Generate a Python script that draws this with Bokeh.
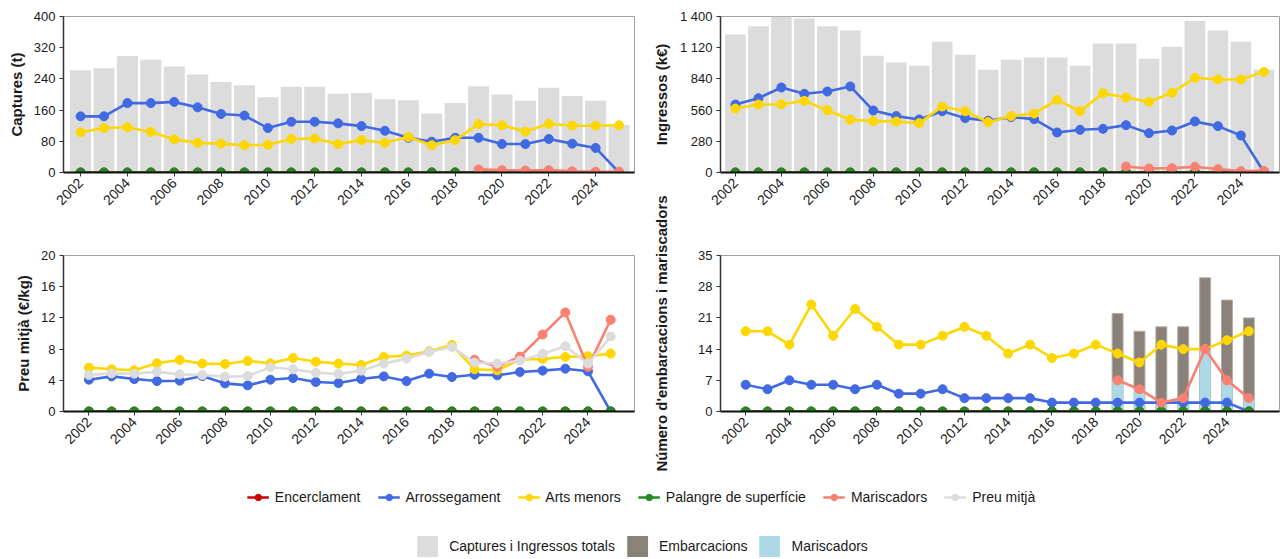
from math import pi
from bokeh.plotting import figure
from bokeh.layouts import row, column
from bokeh.models import FixedTicker, Range1d, Legend, LegendItem, Label
from bokeh.embed import file_html
from bokeh.resources import INLINE

# ---------------- data ----------------
years = [2002, 2003, 2004, 2005, 2006, 2007, 2008, 2009, 2010, 2011, 2012, 2013,
         2014, 2015, 2016, 2017, 2018, 2019, 2020, 2021, 2022, 2023, 2024, 2025]
years_marisc = [2019, 2020, 2021, 2022, 2023, 2024, 2025]
x_tick_years = [2002, 2004, 2006, 2008, 2010, 2012, 2014, 2016, 2018, 2020, 2022, 2024]

series_names = ["Encerclament", "Arrossegament", "Arts menors",
                "Palangre de superfície", "Mariscadors", "Preu mitjà"]
series_colors = ["#CC0000", "#4169E1", "#FFD700", "#228B22", "#FA8072", "#DCDCDC"]
bar_names = ["Captures i Ingressos totals", "Embarcacions", "Mariscadors"]
bar_colors = ["#DCDCDC", "#8A8178", "#ADD8E6"]

zeros_all = [0, 0, 0, 0, 0, 0, 0, 0, 0, 0, 0, 0, 0, 0, 0, 0, 0, 0, 0, 0, 0, 0, 0, 0]

# Captures (t)
captures_total = [262, 267, 299, 289, 272, 251, 232, 224, 193, 220, 220, 202,
                  204, 188, 185, 151, 178, 221, 200, 184, 217, 196, 184, 122]
captures_encerclament = zeros_all
captures_arrossegament = [144, 144, 178, 178, 181, 167, 150, 146, 114, 130, 130, 126,
                          119, 107, 89, 79, 89, 89, 73, 73, 86, 74, 63, 0]
captures_arts_menors = [103, 114, 116, 104, 85, 76, 74, 70, 71, 86, 87, 73,
                        83, 76, 91, 70, 83, 124, 121, 105, 125, 120, 120, 121]
captures_palangre = zeros_all
captures_mariscadors = [8, 6, 5, 6, 3, 2, 2]

# Ingressos (k€)
ingressos_total = [1238, 1313, 1415, 1382, 1313, 1274, 1047, 987, 957, 1173, 1056, 921,
                   1011, 1032, 1032, 957, 1158, 1158, 1020, 1128, 1361, 1274, 1173, 921]
ingressos_encerclament = zeros_all
ingressos_arrossegament = [610, 667, 763, 706, 727, 772, 556, 506, 476, 550, 488, 464,
                           497, 479, 359, 383, 392, 425, 353, 377, 458, 416, 332, 5]
ingressos_arts_menors = [574, 610, 613, 643, 559, 473, 461, 458, 443, 592, 550, 452,
                         506, 529, 652, 550, 712, 673, 634, 715, 850, 835, 835, 903]
ingressos_palangre = zeros_all
ingressos_mariscadors = [54, 36, 39, 51, 30, 12, 15]

# Preu mitjà (€/kg)
preu_encerclament = zeros_all
preu_arrossegament = [4.08, 4.50, 4.16, 3.90, 3.95, 4.55, 3.60, 3.35, 4.08, 4.29, 3.78, 3.65,
                      4.16, 4.50, 3.90, 4.85, 4.42, 4.72, 4.64, 5.06, 5.24, 5.49, 5.15, 0]
preu_arts_menors = [5.62, 5.41, 5.28, 6.18, 6.61, 6.14, 6.09, 6.48, 6.18, 6.87, 6.39, 6.14,
                    5.97, 7.00, 7.17, 7.73, 8.54, 5.41, 5.28, 6.65, 6.74, 7.00, 7.08, 7.42]
preu_palangre = zeros_all
preu_mariscadors = [6.65, 5.75, 7.04, 9.87, 12.70, 5.71, 11.76]
preu_mitja = [4.68, 4.89, 4.85, 5.10, 4.76, 4.68, 4.46, 4.55, 5.67, 5.41, 4.98, 4.81,
              5.24, 6.14, 6.78, 7.64, 8.28, 6.27, 6.14, 6.52, 7.38, 8.37, 6.14, 9.61]

# Número d'embarcacions i mariscadors
emb_encerclament = zeros_all
emb_arrossegament = [6, 5, 7, 6, 6, 5, 6, 4, 4, 5, 3, 3, 3, 3, 2, 2, 2, 2, 2, 2, 2, 2, 2, 0]
emb_arts_menors = [18, 18, 15, 24, 17, 23, 19, 15, 15, 17, 19, 17,
                   13, 15, 12, 13, 15, 13, 11, 15, 14, 14, 16, 18]
emb_palangre = zeros_all
emb_mariscadors = [7, 5, 2, 3, 14, 7, 3]
embarcacions_total = [22, 18, 19, 19, 30, 25, 21]
mariscadors_n = [7, 5, 2, 3, 14, 7, 3]

FONT = "Liberation Sans"
TXT = "#1a1a1a"
NAN = float("nan")


def make_fig(frame_w, frame_h, left, right, top, bottom, xr, yr, yticks, ylabel=None):
    p = figure(width=left + frame_w + right, height=top + frame_h + bottom,
               x_range=Range1d(*xr), y_range=Range1d(*yr),
               output_backend="svg", toolbar_location=None,
               min_border_left=left, min_border_right=right,
               min_border_top=top, min_border_bottom=bottom)
    p.background_fill_color = "white"
    p.outline_line_color = "#a0a0a0"
    p.outline_line_width = 1
    p.xgrid.visible = False
    p.ygrid.visible = False
    p.xaxis.ticker = FixedTicker(ticks=x_tick_years)
    p.yaxis.ticker = FixedTicker(ticks=yticks)
    p.xaxis.major_label_orientation = pi / 4
    for ax in (p.xaxis[0], p.yaxis[0]):
        ax.major_label_text_font = FONT
        ax.major_label_text_color = TXT
        ax.major_tick_out = 4
        ax.major_tick_in = 0
        ax.minor_tick_out = 0
        ax.minor_tick_in = 0
        ax.major_tick_line_color = "#333333"
        ax.major_label_standoff = 4
    p.xaxis.major_label_text_font_size = "14px"
    p.yaxis.major_label_text_font_size = "13px"
    p.xaxis.axis_line_color = "#111111"
    p.xaxis.axis_line_width = 2
    p.yaxis.axis_line_color = "#333333"
    p.yaxis.axis_line_width = 1.5
    if ylabel:
        p.yaxis.axis_label = ylabel
        p.yaxis.axis_label_text_font = FONT
        p.yaxis.axis_label_text_font_size = "15px"
        p.yaxis.axis_label_text_font_style = "bold"
        p.yaxis.axis_label_text_color = TXT
        p.yaxis.axis_label_standoff = 6
    return p


def add_line(p, x, y, color):
    p.line(x=x, y=y, line_color=color, line_width=2.6)
    p.scatter(x=x, y=y, size=9, fill_color=color, line_color=color)


# ---------------- panels ----------------
p1 = make_fig(571, 156, 63, 8, 16, 50, (2001.27, 2025.66), (0, 400),
              [0, 80, 160, 240, 320, 400], "Captures (t)")
p1.vbar(x=years, top=captures_total, width=0.9, fill_color=bar_colors[0], line_color=None)
add_line(p1, years, captures_encerclament, series_colors[0])
add_line(p1, years, captures_arrossegament, series_colors[1])
add_line(p1, years, captures_arts_menors, series_colors[2])
add_line(p1, years, captures_palangre, series_colors[3])
add_line(p1, years_marisc, captures_mariscadors, series_colors[4])

p2 = make_fig(559, 156, 48, 3, 16, 50, (2001.35, 2025.68), (0, 1400),
              [0, 280, 560, 840, 1120, 1400])
p2.yaxis.major_label_overrides = {1120: "1 120", 1400: "1 400"}
p2.vbar(x=years, top=ingressos_total, width=0.9, fill_color=bar_colors[0], line_color=None)
add_line(p2, years, ingressos_encerclament, series_colors[0])
add_line(p2, years, ingressos_arrossegament, series_colors[1])
add_line(p2, years, ingressos_arts_menors, series_colors[2])
add_line(p2, years, ingressos_palangre, series_colors[3])
add_line(p2, years_marisc, ingressos_mariscadors, series_colors[4])

p3 = make_fig(578, 156, 56, 8, 33, 60, (2000.88, 2026.05), (0, 20),
              [0, 4, 8, 12, 16, 20], "Preu mitjà (€/kg)")
add_line(p3, years, preu_encerclament, series_colors[0])
add_line(p3, years, preu_arrossegament, series_colors[1])
add_line(p3, years, preu_arts_menors, series_colors[2])
add_line(p3, years, preu_palangre, series_colors[3])
add_line(p3, years_marisc, preu_mariscadors, series_colors[4])
add_line(p3, years, preu_mitja, series_colors[5])

p4 = make_fig(578, 156, 29, 3, 33, 60, (2000.85, 2026.4), (0, 35),
              [0, 7, 14, 21, 28, 35])
p4.vbar(x=years_marisc, top=embarcacions_total, width=0.5, fill_color=bar_colors[1],
        line_color="#b5aea6", line_width=1)
p4.vbar(x=years_marisc, top=mariscadors_n, width=0.5, fill_color=bar_colors[2], line_color=None)
add_line(p4, years, emb_encerclament, series_colors[0])
add_line(p4, years, emb_arrossegament, series_colors[1])
add_line(p4, years, emb_arts_menors, series_colors[2])
add_line(p4, years, emb_palangre, series_colors[3])
add_line(p4, years_marisc, emb_mariscadors, series_colors[4])

# ---------------- y labels of the right column (long label spans both rows) ----------------
lab = figure(width=30, height=471, output_backend="svg", toolbar_location=None,
             x_axis_type=None, y_axis_type=None, min_border=0,
             x_range=Range1d(0, 30), y_range=Range1d(471, 0))
lab.outline_line_color = None
lab.xgrid.visible = False
lab.ygrid.visible = False
for txt, ly in (("Ingressos (k€)", 94), ("Número d'embarcacions i mariscadors", 333)):
    lab.add_layout(Label(x=19, y=ly, text=txt, angle=pi / 2, text_align="center",
                         text_baseline="middle", text_font=FONT, text_font_size="15px",
                         text_font_style="bold", text_color=TXT))

# ---------------- legend ----------------
leg = figure(width=1282, height=88, output_backend="svg", toolbar_location=None,
             x_axis_type=None, y_axis_type=None, min_border=0,
             x_range=Range1d(0, 1), y_range=Range1d(0, 1))
leg.outline_line_color = None
leg.xgrid.visible = False
leg.ygrid.visible = False

items1 = []
for name, color in zip(series_names, series_colors):
    rl = leg.line(x=[NAN], y=[NAN], line_color=color, line_width=2.6)
    rs = leg.scatter(x=[NAN], y=[NAN], size=8, fill_color=color, line_color=color)
    items1.append(LegendItem(label=name, renderers=[rl, rs]))
items2 = []
for name, color in zip(bar_names, bar_colors):
    rb = leg.vbar(x=[NAN], top=[NAN], width=0.5, fill_color=color, line_color=None)
    items2.append(LegendItem(label=name, renderers=[rb]))

lg1 = Legend(items=items1, orientation="horizontal", location="top_center",
             margin=18, padding=0, spacing=17, label_standoff=6,
             glyph_width=22, glyph_height=16, border_line_color=None,
             background_fill_alpha=0, label_text_font=FONT,
             label_text_font_size="14px", label_text_color=TXT)
lg2 = Legend(items=items2, orientation="horizontal", location="bottom_center",
             margin=0, padding=0, spacing=9, label_standoff=9,
             glyph_width=26, glyph_height=26, border_line_color=None,
             background_fill_alpha=0, label_text_font=FONT,
             label_text_font_size="14px", label_text_color=TXT)
leg.add_layout(lg1, "center")
leg.add_layout(lg2, "center")

layout = column(row(column(p1, p3), lab, column(p2, p4)), leg)

open("out.html", "w").write(file_html(layout, INLINE))
